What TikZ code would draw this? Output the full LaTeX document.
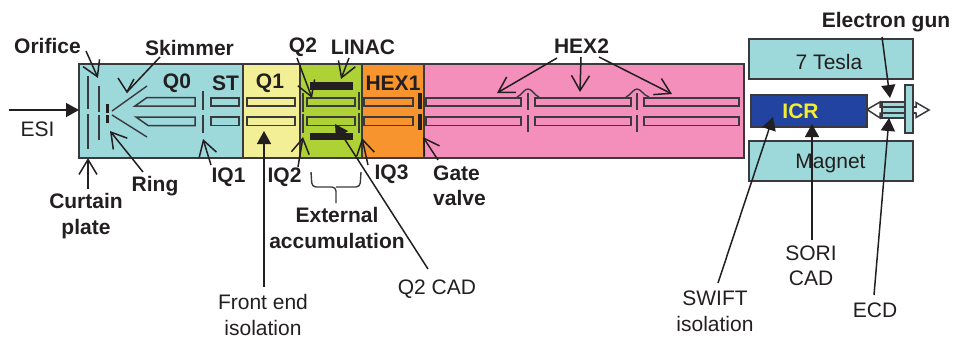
\documentclass[tikz,border=0pt]{standalone}
\usepackage{fontspec}
\setmainfont{Liberation Sans}
\usetikzlibrary{arrows.meta}
\definecolor{ink}{HTML}{231F20}
\definecolor{edge}{HTML}{3A3A3E}
\definecolor{cyanb}{HTML}{9DD8DA}
\definecolor{yelb}{HTML}{F3EF97}
\definecolor{grnb}{HTML}{AED136}
\definecolor{orab}{HTML}{F7942D}
\definecolor{pnkb}{HTML}{F48FBB}
\definecolor{icrblue}{HTML}{2244A0}
\definecolor{icryel}{HTML}{F5EE30}
\newcommand{\blk}[6]{\node[boxb,fill=#6,minimum width=#4pt-#2pt,minimum height=#5pt-#3pt] (#1) at (#2,#3) {};}
\newcommand{\rodpair}[3]{%
  \draw[rod,fill=#3] (#1,98) rectangle (#2,106);
  \draw[rod,fill=#3] (#1,117) rectangle (#2,125.5);}
\newcommand{\slit}[1]{%
  \draw[thinl] (#1,93) -- (#1,110);
  \draw[thinl] (#1,115) -- (#1,132);}
\tikzset{
  x=1pt,y=-1pt,
  boxb/.style={draw=edge,line width=1.3pt,anchor=north west,inner sep=0pt,outer sep=0pt},
  rod/.style={draw=edge,line width=1.5pt},
  thinl/.style={draw=edge,line width=1.4pt},
  openarr/.style={draw=ink,line width=1.5pt,-{Straight Barb[length=15pt,width=18pt,line width=1.5pt]}},
  plainl/.style={draw=ink,line width=1.5pt},
  solidarr/.style={draw=ink,line width=1.5pt,-{Triangle[length=13pt,width=14pt]}},
  lab/.style={text=ink,font=\fontsize{21}{25.5}\selectfont,align=center,inner sep=0pt},
  blab/.style={lab,font=\fontsize{21}{25.5}\selectfont\bfseries},
}
\begin{document}
\begin{tikzpicture}
\useasboundingbox (0,0) rectangle (953,338);
% main instrument
\blk{cy}{79}{64}{243}{158}{cyanb}
\blk{ye}{243}{64}{300}{158}{yelb}
\blk{gr}{300}{64}{362}{158}{grnb}
\blk{or}{362}{64}{424}{158}{orab}
\blk{pk}{424}{64}{744}{158}{pnkb}
% magnet
\blk{tesla}{749}{39}{913}{79}{cyanb}
\blk{magnet}{749}{141}{913}{181}{cyanb}
\blk{icr}{751}{95}{867}{127}{icrblue}
% source optics
\draw[thinl] (88,76) -- (88,109);
\draw[thinl] (88,114) -- (88,149);
\draw[thinl] (99,86) -- (99,112);
\draw[thinl] (99,115) -- (99,140);
\fill[ink] (106,104) rectangle (109,113);
\fill[ink] (106,115) rectangle (109,123);
\draw[thinl] (112,111) -- (147,86);
\draw[thinl] (112,115) -- (147,137);
% Q0
\draw[rod] (135,106) -- (147,97.5) -- (195,97.5) -- (195,106) -- cycle;
\draw[rod] (136,117) -- (148,125.5) -- (195,125.5) -- (195,117) -- cycle;
\draw[thinl] (203,91) -- (203,110);
\draw[thinl] (203,115) -- (203,133);
\rodpair{211}{239}{cyanb}
% Q1, Q2, HEX1
\rodpair{247}{295}{yelb}
\draw[thinl] (303,93) -- (303,112);
\draw[thinl] (303,114) -- (303,133);
\rodpair{307}{355}{grnb}
\draw[thinl] (359,92) -- (359,110);
\draw[thinl] (359,113) -- (359,133);
\fill[ink] (310,82) rectangle (353,90);
\fill[ink] (310,133) rectangle (353,140);
\rodpair{364}{413}{orab}
\fill[ink] (418,93) rectangle (422,109);
\fill[ink] (418,114) rectangle (422,130);
% HEX2
\rodpair{426}{521}{pnkb}
\rodpair{535}{631}{pnkb}
\rodpair{644}{739}{pnkb}
\slit{528}
\slit{637}
\draw[thinl] (517,97) .. controls (522,95) and (524,89) .. (528,89) .. controls (532,89) and (534,95) .. (539,97);
\draw[thinl] (626,97) .. controls (631,95) and (633,89) .. (637,89) .. controls (641,89) and (643,95) .. (649,97);
% electron gun
\draw[rod,fill=white] (880,107) -- (880,102) -- (867,109.5) -- (880,118) -- (880,113) -- (916,113) -- (916,117.5) -- (929,110) -- (916,102.5) -- (916,107) -- cycle;
\draw[rod,fill=cyanb] (882,102) rectangle (906,118);
\draw[thinl] (882,107) -- (916,107);
\draw[thinl] (882,113) -- (916,113);
\draw[rod,fill=cyanb] (905,85) rectangle (913,133);
% brace
\draw[thinl,rounded corners=4pt] (311,172) -- (312,187) -- (336,187) -- (336,203);
\draw[thinl,rounded corners=4pt] (361,172) -- (360,187) -- (336,187);
% labels
\node[blab] (orifice) at (47.5,46) {Orifice};
\node[blab] (skimmer) at (189.5,48) {Skimmer};
\node[blab] (q0) at (177,83) {Q0};
\node[blab] (st) at (225.5,83) {ST};
\node[blab] (q1) at (270,83) {Q1};
\node[blab] (q2) at (303,47) {Q2};
\node[blab] (linac) at (363,47) {LINAC};
\node[blab] (hex1) at (393,83) {HEX1};
\node[blab] (hex2) at (581.5,46) {HEX2};
\node[blab] (egun) at (886,22) {Electron gun};
\node[lab] (t7) at (829,62) {7 Tesla};
\node[lab] (mag) at (830.5,163) {Magnet};
\node[blab,text=icryel] (icrt) at (800.5,111) {ICR};
\node[lab] (esi) at (37.5,129) {ESI};
\node[blab] (ring) at (155,186) {Ring};
\node[blab] (iq1) at (228.5,177) {IQ1};
\node[blab] (iq2) at (284.5,177) {IQ2};
\node[blab] (iq3) at (391.5,174) {IQ3};
\node[blab,align=left,anchor=west] (gate) at (433,186) {Gate\\valve};
\node[blab] (curtain) at (86,216) {Curtain\\plate};
\node[blab] (ext) at (337,228) {External\\accumulation};
\node[lab] (q2cad) at (437,289) {Q2 CAD};
\node[lab] (front) at (263,315) {Front end\\isolation};
\node[lab] (swift) at (715,311.5) {SWIFT\\isolation};
\node[lab] (sori) at (811,266) {SORI\\CAD};
\node[lab] (ecd) at (875,310) {ECD};
% connector ends
\coordinate (esiS) at (9,110); \coordinate (esiT) at (79,110);
\coordinate (orS) at (86,51); \coordinate (orT) at (98,78);
\coordinate (skS) at (160,57); \coordinate (skT) at (127,92);
\coordinate (skA) at (118,78); \coordinate (skB) at (134,79);
\coordinate (riS) at (143,172); \coordinate (riT) at (110,131);
\coordinate (i1S) at (211,165); \coordinate (i1T) at (203,139);
\coordinate (cuS) at (88,189); \coordinate (cuT) at (88,158);
\coordinate (q2S) at (297,58); \coordinate (q2T) at (312,98);
\coordinate (liS) at (349,58); \coordinate (liT) at (341,79);
\coordinate (i2S) at (298,167); \coordinate (i2T) at (303,137);
\coordinate (i3S) at (368,165); \coordinate (i3T) at (362,138);
\coordinate (gaS) at (438,160); \coordinate (gaT) at (423,137);
\coordinate (hxSa) at (557,58); \coordinate (hxTa) at (497,93);
\coordinate (hxSb) at (581,57); \coordinate (hxTb) at (580,92);
\coordinate (hxSc) at (599,57); \coordinate (hxTc) at (672,94);
\coordinate (feS) at (264,287); \coordinate (feT) at (264,131);
\coordinate (cadS) at (428,269); \coordinate (cadT) at (335,124);
\coordinate (egS) at (882,37); \coordinate (egT) at (890,98);
\coordinate (swS) at (718,283); \coordinate (swT) at (773,117);
\coordinate (soS) at (812,240); \coordinate (soT) at (812,124);
\coordinate (ecS) at (874,295); \coordinate (ecT) at (889,118);
% connectors
\draw[solidarr] (esiS) -- (esiT);
\draw[openarr] (orS) -- (orT);
\draw[plainl] (skS) -- (skT);
\draw[plainl] (skA) -- (skT) -- (skB);
\draw[openarr] (riS) -- (riT);
\draw[openarr] (i1S) -- (i1T);
\draw[openarr] (cuS) -- (cuT);
\draw[openarr] (q2S) -- (q2T);
\draw[openarr] (liS) -- (liT);
\draw[openarr] (i2S) -- (i2T);
\draw[openarr] (i3S) -- (i3T);
\draw[openarr] (gaS) -- (gaT);
\draw[openarr] (hxSa) -- (hxTa);
\draw[openarr] (hxSb) -- (hxTb);
\draw[openarr] (hxSc) -- (hxTc);
\draw[solidarr] (feS) -- (feT);
\draw[solidarr] (cadS) -- (cadT);
\draw[solidarr] (egS) -- (egT);
\draw[solidarr] (swS) -- (swT);
\draw[solidarr] (soS) -- (soT);
\draw[solidarr] (ecS) -- (ecT);
\end{tikzpicture}
\end{document}
